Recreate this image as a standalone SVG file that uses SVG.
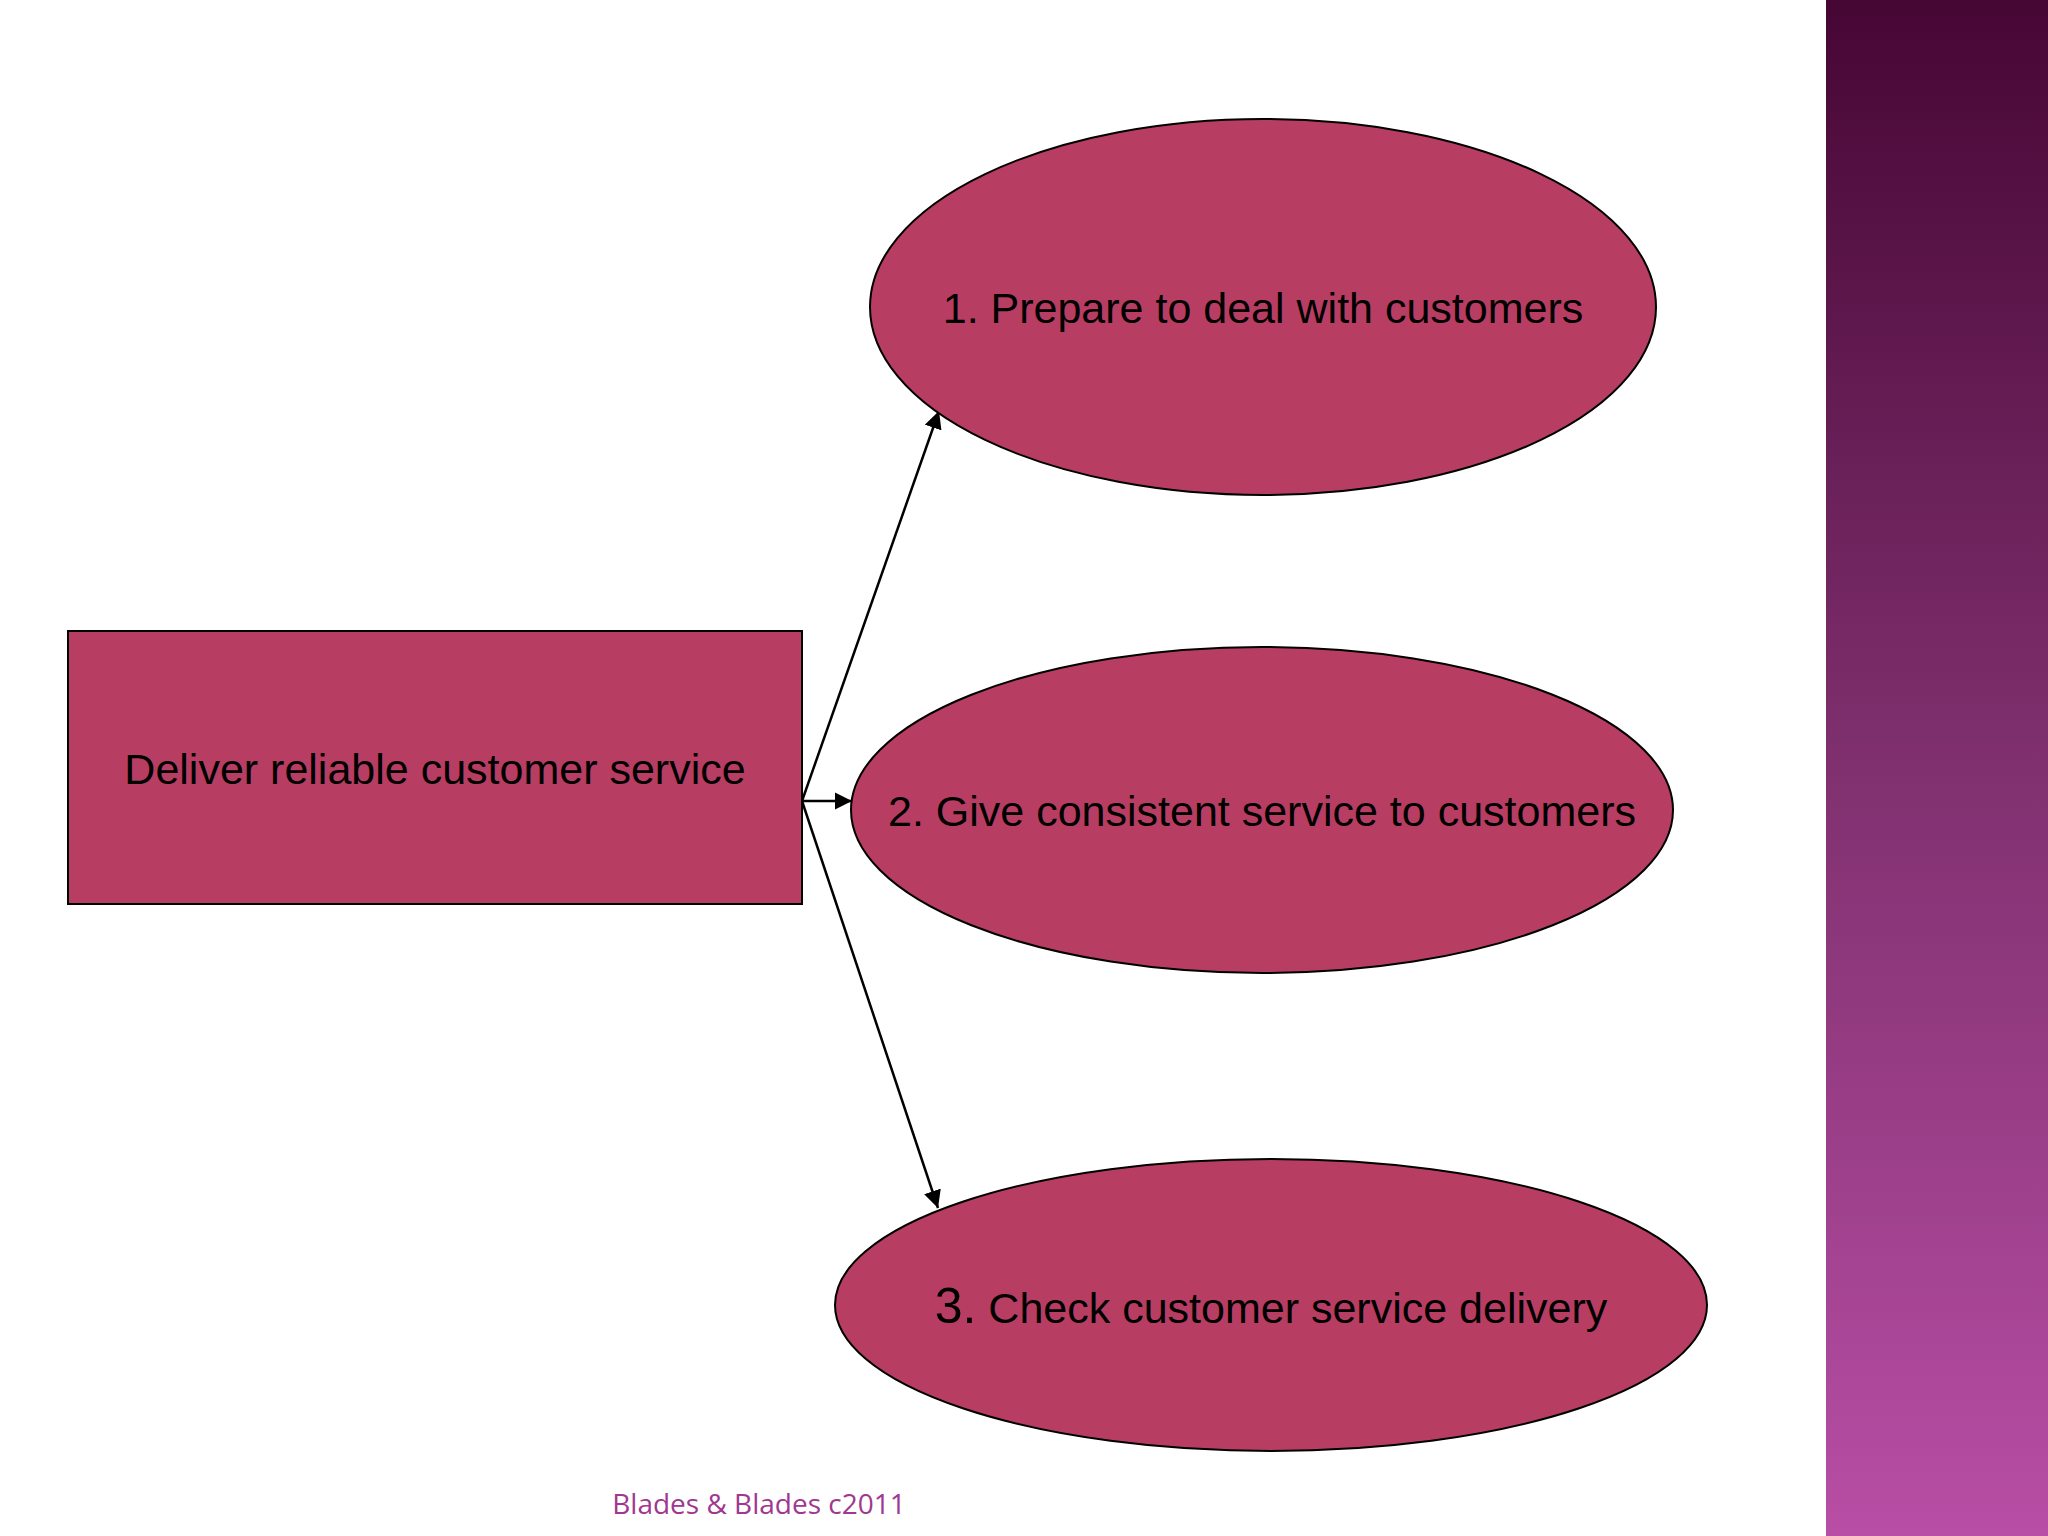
<svg xmlns="http://www.w3.org/2000/svg" width="2048" height="1536" viewBox="0 0 2048 1536">
<defs>
<linearGradient id="side" x1="0" y1="0" x2="0" y2="1">
<stop offset="0" stop-color="#460634"/><stop offset="0.5" stop-color="#80306f"/><stop offset="1" stop-color="#b84ea5"/>
</linearGradient>
<marker id="ah" viewBox="0 0 10 10" refX="10" refY="5" markerWidth="7" markerHeight="7" orient="auto-start-reverse"><path d="M0,0 L10,5 L0,10 z" fill="#000"/></marker>
<style>
.n{fill:#b83d63;stroke:#000;stroke-width:2}
.t{font-family:"Liberation Sans",Arial,sans-serif;font-size:43px;fill:#000;text-anchor:middle}
.c{stroke:#000;stroke-width:2.5;fill:none;marker-end:url(#ah)}
</style>
</defs>
<rect width="2048" height="1536" fill="#fff"/>
<rect x="1826" y="0" width="222" height="1536" fill="url(#side)"/>
<g id="connectors">
<line class="c" x1="802" y1="801" x2="939" y2="411"/>
<line class="c" x1="802" y1="801" x2="852" y2="801"/>
<line class="c" x1="802" y1="801" x2="938" y2="1208"/>
</g>
<g id="root"><rect class="n" x="68" y="631" width="734" height="273"/><text class="t" x="435" y="784">Deliver reliable customer service</text></g>
<g id="n1"><ellipse class="n" cx="1263" cy="307" rx="393" ry="188"/><text class="t" x="1263" y="323">1. Prepare to deal with customers</text></g>
<g id="n2"><ellipse class="n" cx="1262" cy="810" rx="411" ry="163"/><text class="t" x="1262" y="826">2. Give consistent service to customers</text></g>
<g id="n3"><ellipse class="n" cx="1271" cy="1305" rx="436" ry="146"/><text class="t" x="1271" y="1323"><tspan font-size="50">3.</tspan> Check customer service delivery</text></g>
<text x="759" y="1514" font-family="'Open Sans','Liberation Sans',sans-serif" font-size="28" fill="#a0388f" text-anchor="middle">Blades &amp; Blades c2011</text>
</svg>
